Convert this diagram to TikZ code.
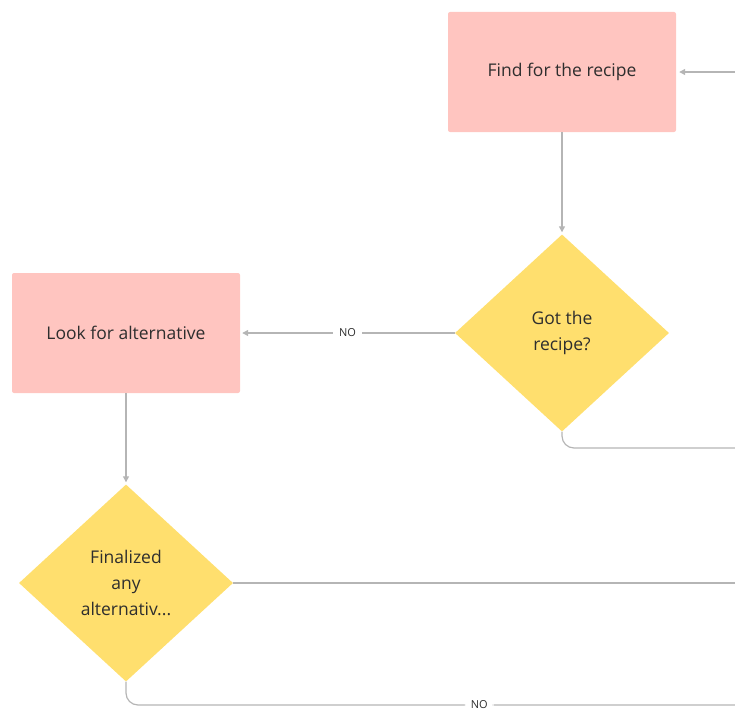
\documentclass[tikz,border=0pt]{standalone}
\usepackage{fontspec}
\setmainfont{Open Sans}
\usetikzlibrary{arrows.meta, positioning, shapes.geometric}
\definecolor{boxpink}{HTML}{FFC5C0}
\definecolor{diayellow}{HTML}{FFDF6E}
\definecolor{linegray}{HTML}{B5B5B5}
\definecolor{txtgray}{HTML}{2E2E2E}

\tikzset{
  taskbox/.style={fill=boxpink, rounded corners=2pt, minimum width=228pt, minimum height=120pt,
    inner sep=0pt, text=txtgray, font=\fontsize{17.5}{26}\selectfont},
  decision/.style={diamond, fill=diayellow, minimum width=214pt, minimum height=197pt,
    inner sep=0pt, align=center, text=txtgray, font=\fontsize{17.5}{26}\selectfont},
  flow/.style={draw=linegray, line width=1.2pt, -{Triangle[length=6pt, width=6pt]}},
  link/.style={draw=linegray, line width=1.2pt, rounded corners=12pt},
  nolabel/.style={fill=white, text=txtgray, inner xsep=6pt, font=\fontsize{11}{12}\selectfont}
}

\begin{document}
\begin{tikzpicture}[x=1pt, y=-1pt]
  \useasboundingbox (0,0) rectangle (735,709);

  % Boxes
  \node[taskbox] (find) at (562,72) {Find for the recipe};
  \node[taskbox] (look) at (126,333) {Look for alternative};

  % Decisions
  \node[decision] (got) at (562,333) {Got the\\recipe?};
  \node[decision] (fin) at (126,583) {Finalized\\any\\alternativ...};

  % Loose ends
  \coordinate (inR) at (735,72);
  \coordinate (outA) at (735,448);
  \coordinate (outB) at (735,583);
  \coordinate (outC) at (735,705);

  % Connectors
  \draw[flow, shorten >=3pt] (inR) -- (find.east);
  \draw[flow, shorten >=2pt] (find.south) -- (got.north);
  \draw[flow, shorten >=2pt] (got.west) -- node[nolabel] {NO} (look.east);
  \draw[flow, shorten >=2pt] (look.south) -- (fin.north);
  \draw[link] (got.south) |- (outA);
  \draw[link] (fin.east) -- (outB);
  \draw[link] (fin.south) |- node[nolabel, pos=0.79] {NO} (outC);
\end{tikzpicture}
\end{document}
